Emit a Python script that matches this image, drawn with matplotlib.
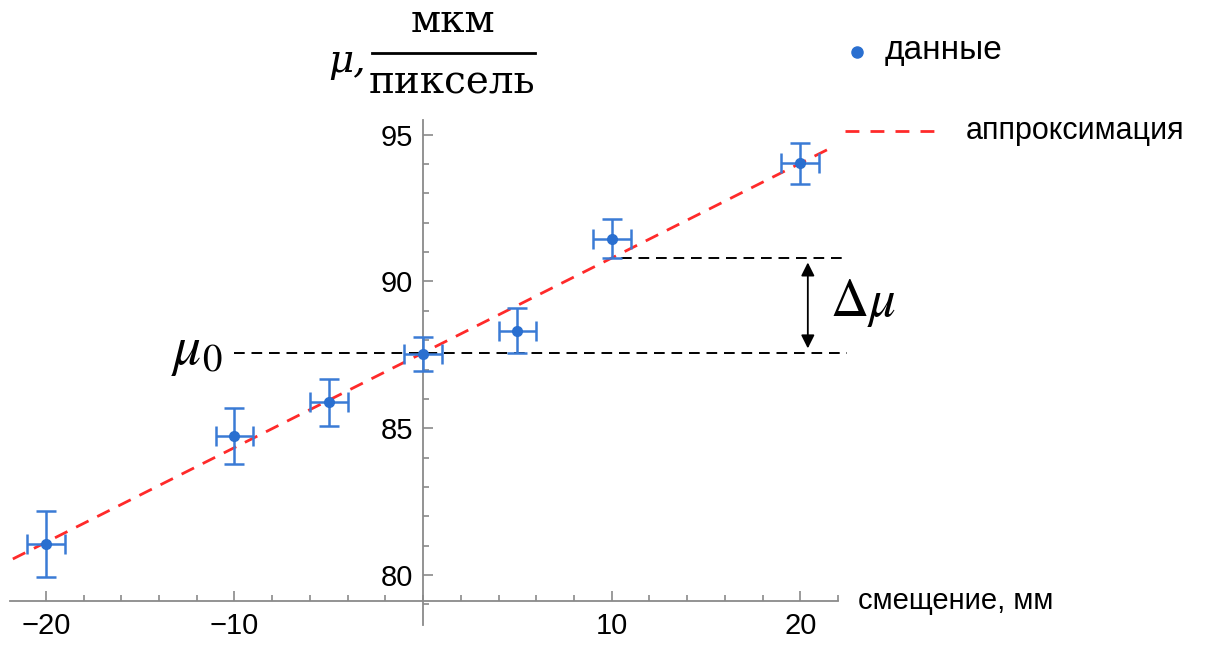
import numpy as np
import matplotlib
matplotlib.use("Agg")
import matplotlib.pyplot as plt
from matplotlib.lines import Line2D
from matplotlib.ticker import FixedLocator, FixedFormatter, MultipleLocator

# ---- data ----
shift_mm = [-20, -10, -5, 0, 5, 10, 20]
mu_vals = [81.05, 84.73, 85.88, 87.52, 88.33, 91.46, 94.02]
mu_err = [1.12, 0.95, 0.80, 0.58, 0.75, 0.66, 0.70]
shift_err = [1.0, 1.0, 1.0, 1.0, 1.0, 1.0, 1.0]
x_tick_vals = [-20, -10, 10, 20]
x_tick_labels = ["\u221220", "\u221210", "10", "20"]
y_tick_vals = [80, 85, 90, 95]
y_tick_labels = ["80", "85", "90", "95"]
legend_labels = ["данные", "аппроксимация"]
x_label = "смещение, мм"
y_label_num = "мкм"
y_label_den = "пиксель"

W, H = 1229, 648
fig = plt.figure(figsize=(W / 100, H / 100), dpi=100)
plt.rcParams['font.family'] = ['Liberation Sans', 'DejaVu Sans']

def fx(px):
    return px / W

def fy(py):
    return 1 - py / H

xmin, xmax = -21.9, 22.0
ymin, ymax = 78.3, 95.5
ax = fig.add_axes([fx(10), fy(625), fx(838) - fx(10), fy(120) - fy(625)])
ax.set_xlim(xmin, xmax)
ax.set_ylim(ymin, ymax)
ax.patch.set_alpha(0)

axis_col = "#8a8a8a"
ax.spines['top'].set_visible(False)
ax.spines['right'].set_visible(False)
ax.spines['left'].set_position(('data', 0))
ax.spines['bottom'].set_position(('data', 79.12))
for s in ('left', 'bottom'):
    ax.spines[s].set_color(axis_col)
    ax.spines[s].set_linewidth(1.3)

ax.xaxis.set_major_locator(FixedLocator(x_tick_vals))
ax.xaxis.set_major_formatter(FixedFormatter(x_tick_labels))
ax.xaxis.set_minor_locator(MultipleLocator(2))
ax.yaxis.set_major_locator(FixedLocator(y_tick_vals))
ax.yaxis.set_major_formatter(FixedFormatter(y_tick_labels))
ax.yaxis.set_minor_locator(MultipleLocator(1))
ax.tick_params(which='both', direction='in', color=axis_col, width=1.2,
               labelsize=21, labelcolor='black')
ax.tick_params(which='major', length=7)
ax.tick_params(which='minor', length=4)
ax.tick_params(axis='x', which='major', pad=8)
ax.tick_params(axis='y', which='major', pad=7)

# fit line
xs = np.array(shift_mm, dtype=float)
ys = np.array(mu_vals, dtype=float)
slope, intercept = np.polyfit(xs, ys, 1)
xl = np.array([-21.75, 21.7])
ax.plot(xl, intercept + slope * xl, color='#ff2a2a', lw=2.0,
        dashes=(5, 3.5), zorder=3)

# data with error bars
blue = '#3a7bd5'
ax.errorbar(shift_mm, mu_vals, yerr=mu_err, xerr=shift_err, fmt='o',
            color=blue, ms=7, mfc='#2a6fd0', mec='#2a6fd0', ecolor=blue,
            elinewidth=1.8, capsize=7, capthick=1.8, zorder=4)

# mu0 and delta mu guide lines
mu0 = intercept
mu10 = intercept + slope * 10
ax.plot([-10.05, 22.5], [mu0, mu0], color='black', lw=1.4, dashes=(5.5, 3.5),
        zorder=2, clip_on=False)
ax.plot([10.5, 22.5], [mu10, mu10], color='black', lw=1.4, dashes=(5.5, 3.5),
        zorder=2, clip_on=False)
ax.annotate('', xy=(20.4, mu10 - 0.15), xytext=(20.4, mu0 + 0.15),
            arrowprops=dict(arrowstyle='<|-|>', color='black', lw=1.3,
                            mutation_scale=20, shrinkA=0, shrinkB=0),
            annotation_clip=False)

fig.text(fx(830), fy(303), r'$\Delta\mu$', fontsize=38, ha='left', va='center',
         math_fontfamily='stix')
fig.text(fx(197), fy(352), r'$\mu_0$', fontsize=40, ha='center', va='center',
         math_fontfamily='stix')

# x-axis label
fig.text(fx(858), fy(601), x_label, fontsize=21, ha='left', va='center')

# y-axis label as fraction
serif = ['DejaVu Serif']
fig.text(fx(347), fy(62), 'μ,', fontsize=28, ha='center', va='center',
         family=serif, style='italic')
fig.text(fx(453), fy(22), y_label_num, fontsize=28, ha='center', va='center',
         family=serif)
fig.add_artist(Line2D([fx(372), fx(535)], [fy(53), fy(53)], color='black',
                      lw=2.0, transform=fig.transFigure))
fig.text(fx(452), fy(83), y_label_den, fontsize=28, ha='center', va='center',
         family=serif)

# legend
fig.add_artist(Line2D([fx(857)], [fy(52)], marker='o', ms=8, color='#2a6fd0',
                      transform=fig.transFigure))
fig.text(fx(885), fy(50), legend_labels[0], fontsize=24, ha='left', va='center')
fig.add_artist(Line2D([fx(845), fx(940)], [fy(131), fy(131)], color='#ff2a2a',
                      lw=2.0, dashes=(5, 4), transform=fig.transFigure))
fig.text(fx(966), fy(131), legend_labels[1], fontsize=22, ha='left', va='center')

fig.savefig('out.png', dpi=100)
